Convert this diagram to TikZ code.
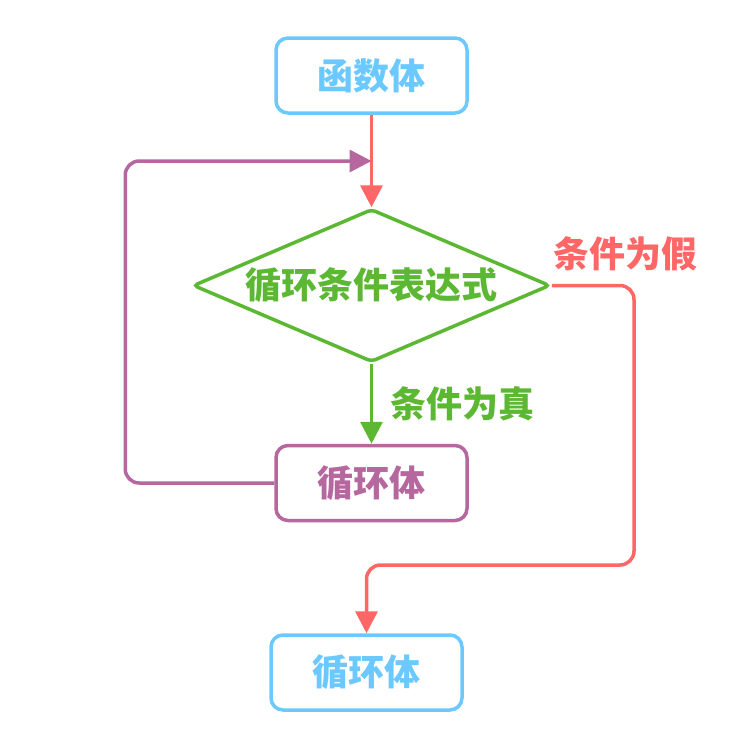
\documentclass[tikz,border=0pt]{standalone}
\usepackage{fontspec}
\newfontfamily\cjk{Noto Sans CJK SC}
\usepackage{tikz}
\usetikzlibrary{positioning, arrows.meta, shapes.geometric, calc}

\definecolor{skyblue}{HTML}{6CC9FF}
\definecolor{redline}{HTML}{FF6666}
\definecolor{greenline}{HTML}{5CB832}
\definecolor{purpleline}{HTML}{B5679E}

\begin{document}
\begin{tikzpicture}[
    x=1pt, y=-1pt,
    txt/.style={font=\cjk\bfseries\fontsize{36}{42}\selectfont},
    block/.style={txt, draw, line width=3.5pt, rounded corners=12pt,
                  minimum width=191pt, minimum height=75pt, fill=white},
    cond/.style={txt, draw=greenline, diamond, line width=3.5pt, rounded corners=4pt,
                 minimum width=357pt, minimum height=153pt, inner sep=0pt,
                 aspect=2.33, text=greenline, fill=white},
    arr/.style={-{Triangle[length=22pt, width=22pt]}, line width=3.5pt},
    node distance=80pt
]
\useasboundingbox (0,0) rectangle (739,750);

% --- nodes ---
\node[block, draw=skyblue, text=skyblue] (func) at (371.5,75.5) {函数体};
\node[cond] (test) at (371.5,285.5) {循环条件表达式};
\node[block, draw=purpleline, text=purpleline, below=80pt of test] (body) {循环体};
\node[block, draw=skyblue, text=skyblue] (exit) at (366.5,672.5) {循环体};

% join point on the entry line, turn point of the exit line
\coordinate (join) at ($(func.south)!0.5!(test.north)$);
\coordinate (turn) at (634,565);

% --- connectors ---
\draw[arr, redline] (func) -- (test);
\draw[arr, greenline] (test) -- (body)
    node[midway, right=14pt, txt, text=greenline] (yes) {条件为真};
\draw[arr, purpleline, rounded corners=14pt] (body.west) -- ++(-149,0) |- (join);
\draw[arr, redline, rounded corners=14pt] (test.east) -| (turn) -| (exit.north);
\node[txt, text=redline] (no) at (625,254) {条件为假};

\end{tikzpicture}
\end{document}
